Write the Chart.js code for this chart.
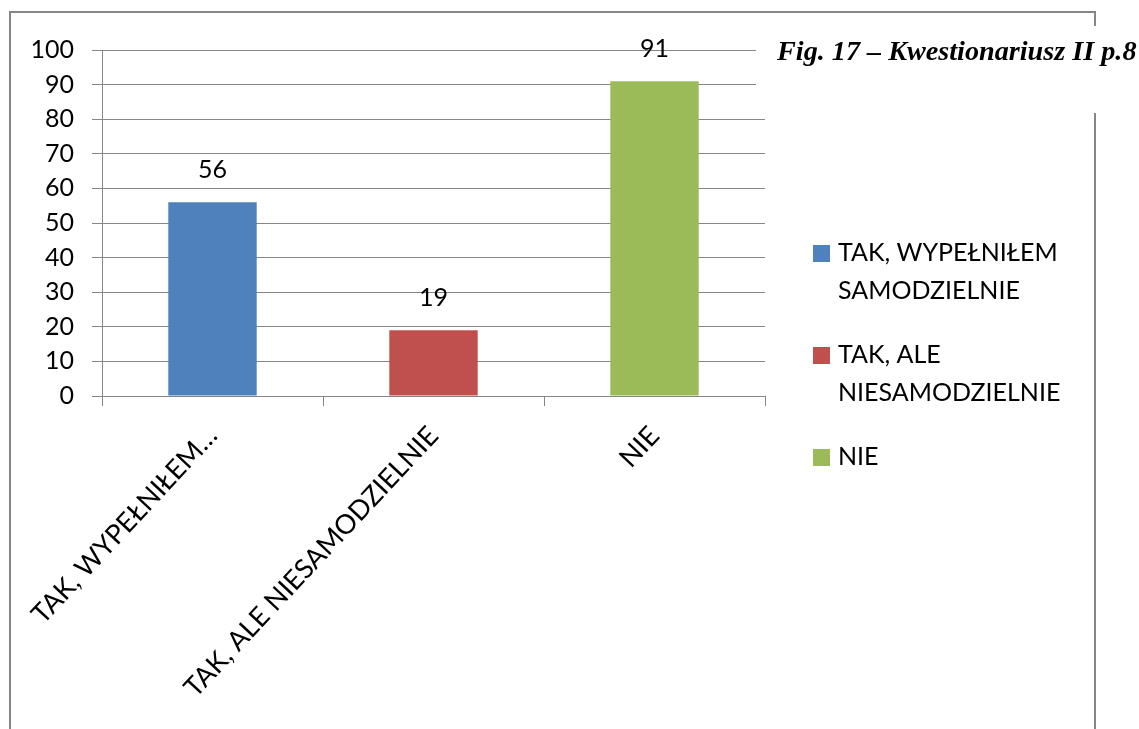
<!DOCTYPE html>
<html>
<head>
<meta charset="utf-8">
<title>Kwestionariusz II p.8</title>
<script src="https://cdn.jsdelivr.net/npm/chart.js@4"></script>
<style>
  html, body { margin: 0; padding: 0; background: #fff; }
  canvas { display: block; }
</style>
</head>
<body>
<canvas id="chart" width="1139" height="729"></canvas>
<script>
// answers to question 8 of questionnaire II
const categories = ['TAK, WYPEŁNIŁEM SAMODZIELNIE', 'TAK, ALE NIESAMODZIELNIE', 'NIE'];
const tickLabels = ['TAK, WYPEŁNIŁEM…', 'TAK, ALE NIESAMODZIELNIE', 'NIE'];
const legendLines = [['TAK, WYPEŁNIŁEM', 'SAMODZIELNIE'], ['TAK, ALE', 'NIESAMODZIELNIE'], ['NIE']];
const counts = [56, 19, 91];
const barColors = ['#4F81BD', '#C0504D', '#9BBB59'];
const yTicks = [0, 10, 20, 30, 40, 50, 60, 70, 80, 90, 100];
const title = 'Fig. 17 – Kwestionariusz II p.8';

const gridColor = '#868686';
const labelFont = 'Lato';

// outer frame of the chart box
const framePlugin = {
    id: 'frame',
    beforeDraw(chart) {
        const c = chart.ctx;
        c.save();
        c.fillStyle = '#fff';
        c.fillRect(0, 0, chart.width, chart.height);
        c.strokeStyle = gridColor;
        c.lineWidth = 2;
        c.beginPath();
        c.moveTo(10, chart.height);
        c.lineTo(10, 12);
        c.lineTo(1095, 12);
        c.lineTo(1095, chart.height);
        c.stroke();
        c.restore();
    }
};

// value above every bar
const valueLabels = {
    id: 'valueLabels',
    afterDatasetsDraw(chart) {
        const c = chart.ctx;
        const meta = chart.getDatasetMeta(0);
        c.save();
        c.font = '25px ' + labelFont;
        c.fillStyle = '#000';
        c.textAlign = 'center';
        c.textBaseline = 'middle';
        meta.data.forEach((bar, i) => {
            c.fillText(String(counts[i]), bar.x, bar.y - 32);
        });
        c.restore();
    }
};

// legend with wrapped labels on the right
const sideLegend = {
    id: 'sideLegend',
    afterDraw(chart) {
        const c = chart.ctx;
        const area = chart.chartArea;
        const boxX = area.right + 48;
        const textX = boxX + 25;
        const lineH = 38;
        let y = area.top + 203;
        c.save();
        c.font = '25px ' + labelFont;
        c.textBaseline = 'middle';
        c.textAlign = 'left';
        legendLines.forEach((lines, i) => {
            c.fillStyle = barColors[i];
            c.fillRect(boxX, y - 8, 17, 17);
            c.fillStyle = '#000';
            lines.forEach((line, j) => c.fillText(line, textX, y + j * lineH));
            y += lines.length * lineH + 26;
        });
        c.restore();
    }
};

// caption in the top right corner, over the frame
const caption = {
    id: 'caption',
    afterDraw(chart) {
        const c = chart.ctx;
        c.save();
        c.fillStyle = '#fff';
        c.fillRect(756, 26, chart.width - 756, 87);
        let size = 26;
        c.font = 'italic bold ' + size + 'px "Liberation Serif"';
        size = size * 360 / c.measureText(title).width;
        c.font = 'italic bold ' + size.toFixed(1) + 'px "Liberation Serif"';
        c.fillStyle = '#000';
        c.textBaseline = 'middle';
        c.textAlign = 'left';
        c.fillText(title, 777, 53);
        c.restore();
    }
};

new Chart(document.getElementById('chart'), {
    type: 'bar',
    data: {
        labels: categories,
        datasets: [{
            label: 'Kwestionariusz II p.8',
            data: counts,
            backgroundColor: barColors,
            borderWidth: 0,
            categoryPercentage: 1,
            barPercentage: 0.4
        }]
    },
    options: {
        responsive: false,
        animation: false,
        layout: { padding: { top: 50, right: 374, left: 0, bottom: 0 } },
        plugins: {
            legend: { display: false },
            tooltip: { enabled: false }
        },
        scales: {
            x: {
                offset: true,
                grid: {
                    offset: true,
                    drawOnChartArea: false,
                    drawTicks: true,
                    tickLength: 10,
                    color: gridColor
                },
                border: { color: gridColor },
                ticks: {
                    autoSkip: false,
                    minRotation: 47,
                    maxRotation: 47,
                    padding: 14,
                    color: '#000',
                    font: { family: labelFont, size: 27 },
                    callback: (v, i) => tickLabels[i]
                },
                afterFit(scale) { scale.height = 333; }
            },
            y: {
                min: 0,
                max: 100,
                afterBuildTicks(scale) { scale.ticks = yTicks.map(v => ({ value: v })); },
                grid: { color: gridColor, tickLength: 10 },
                border: { color: gridColor },
                ticks: {
                    padding: 18,
                    color: '#000',
                    font: { family: labelFont, size: 25 }
                },
                afterFit(scale) { scale.width = 102; }
            }
        }
    },
    plugins: [framePlugin, valueLabels, sideLegend, caption]
});
</script>
</body>
</html>
